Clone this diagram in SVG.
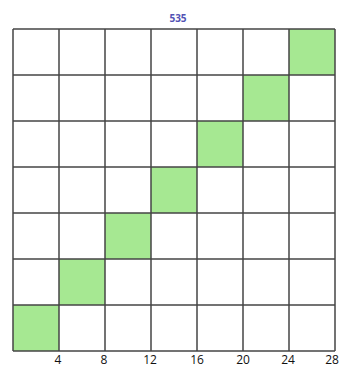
<svg xmlns="http://www.w3.org/2000/svg" width="340" height="368" viewBox="0 0 340 368">
<style>
.cell{fill:#a6e892}
.grid line{stroke:#444;stroke-width:1.5}
.lbl{font-family:"Open Sans","Liberation Sans",sans-serif;font-size:12px;fill:#111;text-anchor:middle}
.title{font-family:"Open Sans","Liberation Sans",sans-serif;font-size:10px;font-weight:bold;fill:#5252b4;text-anchor:middle}
</style>
<rect width="340" height="368" fill="#fff"/>
<text class="title" x="178" y="22">535</text>
<g id="cells">
<rect class="cell" x="289" y="29" width="46" height="46"/>
<rect class="cell" x="243" y="75" width="46" height="46"/>
<rect class="cell" x="197" y="121" width="46" height="46"/>
<rect class="cell" x="151" y="167" width="46" height="46"/>
<rect class="cell" x="105" y="213" width="46" height="46"/>
<rect class="cell" x="59" y="259" width="46" height="46"/>
<rect class="cell" x="13" y="305" width="46" height="46"/>
</g>
<g id="grid" class="grid">
<line x1="13" y1="29" x2="13" y2="351"/>
<line x1="59" y1="29" x2="59" y2="351"/>
<line x1="105" y1="29" x2="105" y2="351"/>
<line x1="151" y1="29" x2="151" y2="351"/>
<line x1="197" y1="29" x2="197" y2="351"/>
<line x1="243" y1="29" x2="243" y2="351"/>
<line x1="289" y1="29" x2="289" y2="351"/>
<line x1="335" y1="29" x2="335" y2="351"/>
<line x1="13" y1="29" x2="335" y2="29"/>
<line x1="13" y1="75" x2="335" y2="75"/>
<line x1="13" y1="121" x2="335" y2="121"/>
<line x1="13" y1="167" x2="335" y2="167"/>
<line x1="13" y1="213" x2="335" y2="213"/>
<line x1="13" y1="259" x2="335" y2="259"/>
<line x1="13" y1="305" x2="335" y2="305"/>
<line x1="13" y1="351" x2="335" y2="351"/>
</g>
<g id="labels">
<text class="lbl" x="58" y="364">4</text>
<text class="lbl" x="104" y="364">8</text>
<text class="lbl" x="150" y="364">12</text>
<text class="lbl" x="197" y="364">16</text>
<text class="lbl" x="243" y="364">20</text>
<text class="lbl" x="288" y="364">24</text>
<text class="lbl" x="332" y="364">28</text>
</g>
</svg>
